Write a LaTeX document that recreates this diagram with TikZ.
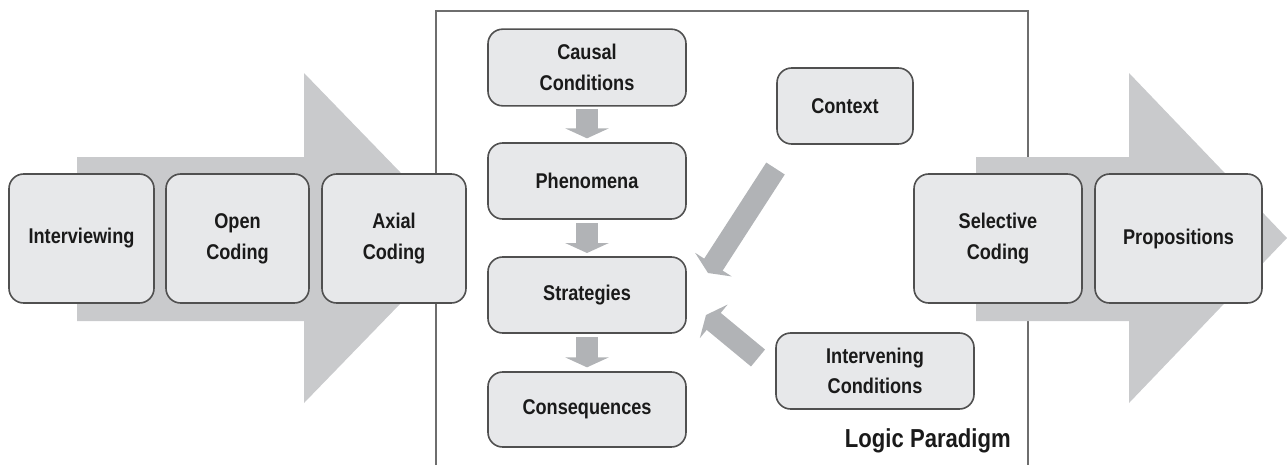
\documentclass[tikz,border=0pt]{standalone}
\usepackage{fontspec}
\setmainfont{Liberation Sans}[FakeStretch=0.85]
\usetikzlibrary{arrows.meta,calc}

\definecolor{boxfill}{RGB}{231,232,234}
\definecolor{boxline}{RGB}{80,80,80}
\definecolor{flowgrey}{RGB}{201,202,204}
\definecolor{linkgrey}{RGB}{177,179,182}
\definecolor{framegrey}{RGB}{110,110,110}
\definecolor{inkgrey}{RGB}{26,26,26}

\tikzset{
  stage/.style={draw=boxline, line width=1.2pt, fill=boxfill, rounded corners=11pt, text=inkgrey,
    align=center, inner sep=2pt, outer sep=0pt, font=\bfseries\fontsize{16}{23}\selectfont},
  link/.style={draw=linkgrey, line width=16.5pt, -{Triangle[length=7.5pt,width=32.5pt]}},
}

\begin{document}
\begin{tikzpicture}[x=0.75pt,y=0.75pt,yscale=-1,xscale=1]
\useasboundingbox (0,0) rectangle (1287,465);

%Shape: Process Arrow (left)
\fill [flowgrey] (77,157) -- (304,157) -- (304,73) -- (464,238) -- (304,403) -- (304,321) -- (77,321) -- cycle;
%Shape: Paradigm Frame
\draw [framegrey, line width=1.5pt] (436,465) -- (436,11) -- (1028,11) -- (1028,465);
%Shape: Process Arrow (right)
\fill [flowgrey] (976,157) -- (1129,157) -- (1129,73) -- (1287,238) -- (1129,403) -- (1129,321) -- (976,321) -- cycle;

% Process Nodes
\node [stage, minimum width=108.75pt, minimum height=96.75pt] (interview) at (81.5,238.5) {Interviewing};
\node [stage, minimum width=107.25pt, minimum height=96.75pt] (open) at (237.5,238.5) {Open\\Coding};
\node [stage, minimum width=108pt, minimum height=96.75pt] (axial) at (394,238.5) {Axial\\Coding};
\node [stage, minimum width=126pt, minimum height=96.75pt] (selective) at (998,238.5) {Selective\\Coding};
\node [stage, minimum width=125.25pt, minimum height=96.75pt] (propos) at (1178.5,238.5) {Propositions};

% Paradigm Nodes
\node [stage, minimum width=148.5pt, minimum height=57.5pt] (causal) at (587,67.5) {Causal\\Conditions};
\node [stage, minimum width=148.5pt, minimum height=57pt] (phenom) at (587,181) {Phenomena};
\node [stage, minimum width=148.5pt, minimum height=57pt] (strat) at (587,295) {Strategies};
\node [stage, minimum width=148.5pt, minimum height=56.25pt] (conseq) at (587,409.5) {Consequences};
\node [stage, minimum width=102pt, minimum height=57pt] (context) at (845,106) {Context};
\node [stage, minimum width=148.5pt, minimum height=57pt] (interv) at (875,371) {Intervening\\Conditions};

% Text Node
\node [anchor=base east, inner sep=0pt, text=inkgrey, font=\bfseries\fontsize{19.5}{22}\selectfont] (paradigm) at (1011,447) {Logic Paradigm};

%Straight Lines: paradigm links
\draw [link, shorten <=2.25pt, shorten >=3.5pt] (causal) -- (phenom);
\draw [link, shorten <=3pt, shorten >=3pt] (phenom) -- (strat);
\draw [link, shorten <=3pt, shorten >=3.5pt] (strat) -- (conseq);

\coordinate (ctxtail) at ($(context.south)+(-69.5,24.5)$);
\coordinate (ctxtip) at ($(strat.east)+(22,-22)$);
\draw [link] (ctxtail) -- (ctxtip);

\coordinate (ivtail) at ($(interv.west)+(-18,-13)$);
\coordinate (ivtip) at ($(strat.east)+(20,20)$);
\draw [link] (ivtail) -- (ivtip);

\end{tikzpicture}
\end{document}
